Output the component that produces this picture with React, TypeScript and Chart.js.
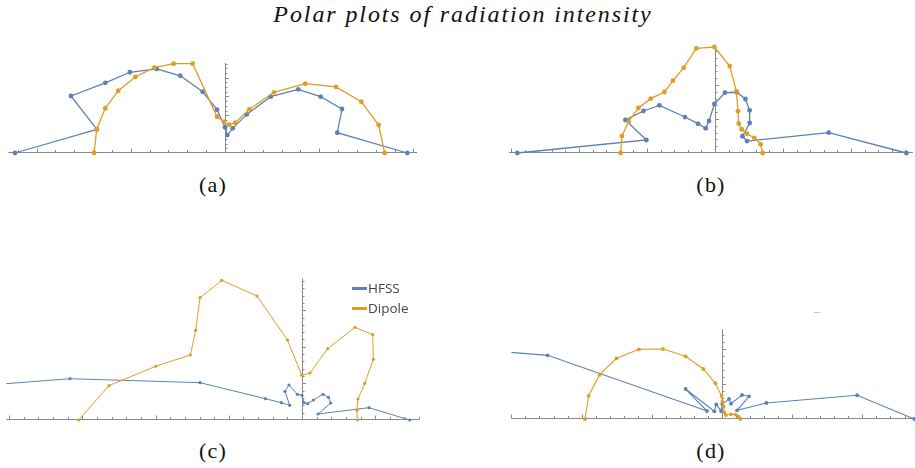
import React, { useEffect, useRef } from 'react';
import { Chart, registerables } from 'chart.js';

Chart.register(...registerables);

type Pt = [number, number];

const chartTitle = 'Polar plots of radiation intensity';
const seriesNames = ['HFSS', 'Dipole'];
const seriesColors = ['#5E81B5', '#E19C24'];
const panelCaptions = ['(a)', '(b)', '(c)', '(d)'];

// Pattern (a): cartesian projection of the polar samples (x, y)
const hfssA: Pt[] = [
  [-2.23, 0], [-1.36, 0.25], [-1.635, 0.605], [-1.27, 0.745], [-1.01, 0.857],
  [-0.725, 0.892], [-0.475, 0.82], [-0.237, 0.65], [-0.085, 0.46], [0.0, 0.273],
  [0.024, 0.19], [0.082, 0.262], [0.23, 0.41], [0.485, 0.598], [0.778, 0.676],
  [1.015, 0.598], [1.242, 0.467], [1.192, 0.215], [1.935, 0],
];
const dipoleA: Pt[] = [
  [-1.39, 0], [-1.362, 0.252], [-1.271, 0.475], [-1.133, 0.661], [-0.952, 0.807],
  [-0.751, 0.906], [-0.545, 0.948], [-0.343, 0.948], [-0.085, 0.385], [-0.011, 0.332],
  [0.046, 0.3], [0.109, 0.322], [0.258, 0.464], [0.52, 0.644], [0.852, 0.736],
  [1.178, 0.701], [1.447, 0.545], [1.631, 0.297], [1.695, 0],
];

// Pattern (b)
const hfssB: Pt[] = [
  [-2.907, 0], [-1.009, 0.191], [-1.318, 0.485], [-1.053, 0.618], [-0.818, 0.701],
  [-0.441, 0.529], [-0.25, 0.431], [-0.137, 0.363], [-0.088, 0.471], [-0.009, 0.721],
  [0.147, 0.887], [0.319, 0.893], [0.447, 0.794], [0.51, 0.628], [0.51, 0.441],
  [0.403, 0.246], [0.471, 0.176], [1.672, 0.299], [2.815, 0],
];
const dipoleB: Pt[] = [
  [-1.387, 0], [-1.368, 0.25], [-1.269, 0.466], [-1.126, 0.662], [-0.946, 0.799],
  [-0.744, 0.897], [-0.618, 1.063], [-0.46, 1.254], [-0.274, 1.54], [-0.009, 1.559],
  [0.216, 1.279], [0.315, 0.907], [0.338, 0.613], [0.349, 0.431], [0.393, 0.349],
  [0.471, 0.284], [0.579, 0.221], [0.672, 0.128], [0.701, 0],
];

// Pattern (c)
const hfssC: Pt[] = [
  [-4.676, 0.447], [-3.169, 0.564], [-1.393, 0.51], [-0.5, 0.291], [-0.281, 0.236],
  [-0.168, 0.201], [-0.232, 0.392], [-0.178, 0.478], [-0.063, 0.351], [0.0, 0.337],
  [0.027, 0.236], [0.078, 0.223], [0.156, 0.273], [0.287, 0.351], [0.361, 0.31],
  [0.392, 0.232], [0.219, 0.082], [0.915, 0.168], [1.471, 0],
];
const dipoleC: Pt[] = [
  [-3.051, 0], [-2.637, 0.469], [-1.999, 0.734], [-1.525, 0.888], [-1.452, 1.225],
  [-1.393, 1.671], [-1.097, 1.908], [-0.615, 1.694], [-0.199, 1.093], [-0.004, 0.611],
  [0.109, 0.642], [0.351, 0.974], [0.724, 1.266], [0.966, 1.165], [0.975, 0.829],
  [0.857, 0.501], [0.765, 0.287], [0.751, 0.133], [0.757, 0],
];

// Pattern (d)
const hfssD: Pt[] = [
  [-4.2, 1.047], [-2.484, 0.907], [-0.214, 0.114], [-0.518, 0.427], [-0.11, 0.11],
  [-0.081, 0.209], [-0.014, 0.114], [0.004, 0.214], [0.1, 0.285], [0.128, 0.218],
  [0.285, 0.342], [0.385, 0.323], [0.214, 0.124], [0.632, 0.228], [1.924, 0.338],
  [2.739, 0],
];
const dipoleD: Pt[] = [
  [-1.952, 0], [-1.9, 0.328], [-1.744, 0.631], [-1.502, 0.865], [-1.183, 0.993],
  [-0.84, 0.997], [-0.519, 0.893], [-0.266, 0.712], [-0.095, 0.509], [-0.006, 0.328],
  [0.004, 0.246], [0.023, 0.175], [0.033, 0.095], [0.057, 0.057], [0.128, 0.067],
  [0.194, 0.061], [0.236, 0.033], [0.261, 0],
];

interface PanelCfg {
  hfss: Pt[];
  dipole: Pt[];
  caption: string;
  // page position of the origin and pixels per data unit
  ox: number;
  oy: number;
  s: number;
  xMin: number;
  xMax: number;
  yMax: number;
  xStep: number;
  yStep: number;
  yMajorEvery: number;
  pointRadius: number;
  lineWidth: number;
  captionX: number;
  captionY: number;
}

const panels: PanelCfg[] = [
  {
    hfss: hfssA, dipole: dipoleA, caption: panelCaptions[0],
    ox: 225, oy: 153, s: 94.2, xMin: -2.3, xMax: 2.04, yMax: 0.955,
    xStep: 0.2, yStep: 0.05, yMajorEvery: 4, pointRadius: 2.4, lineWidth: 1.3,
    captionX: 213, captionY: 185,
  },
  {
    hfss: hfssB, dipole: dipoleB, caption: panelCaptions[1],
    ox: 715, oy: 153, s: 68, xMin: -3.03, xMax: 2.91, yMax: 1.565,
    xStep: 0.2, yStep: 0.1, yMajorEvery: 5, pointRadius: 2.4, lineWidth: 1.3,
    captionX: 711, captionY: 185,
  },
  {
    hfss: hfssC, dipole: dipoleC, caption: panelCaptions[2],
    ox: 302, oy: 420, s: 73.2, xMin: -4.04, xMax: 1.6, yMax: 1.936,
    xStep: 0.2, yStep: 0.1, yMajorEvery: 5, pointRadius: 1.6, lineWidth: 1,
    captionX: 213, captionY: 451,
  },
  {
    hfss: hfssD, dipole: dipoleD, caption: panelCaptions[3],
    ox: 722, oy: 419, s: 70.2, xMin: -3.0, xMax: 2.76, yMax: 1.278,
    xStep: 0.2, yStep: 0.1, yMajorEvery: 5, pointRadius: 1.9, lineWidth: 1.1,
    captionX: 711, captionY: 451,
  },
];

const AXIS_COLOR = '#8a8a8a';

// Draws Mathematica-style axes that cross at the origin, with inward ticks.
function makeAxesPlugin(cfg: PanelCfg) {
  return {
    id: 'originAxes',
    beforeDatasetsDraw(chart: Chart) {
      const { ctx, chartArea } = chart;
      const xs = chart.scales.x;
      const ys = chart.scales.y;
      const x0 = Math.round(xs.getPixelForValue(0)) + 0.5;
      const y0 = Math.round(ys.getPixelForValue(0)) - 0.5;
      ctx.save();
      ctx.strokeStyle = AXIS_COLOR;
      ctx.lineWidth = 1;
      ctx.beginPath();
      ctx.moveTo(chartArea.left, y0);
      ctx.lineTo(chartArea.right, y0);
      ctx.moveTo(x0, y0);
      ctx.lineTo(x0, chartArea.top);
      ctx.stroke();

      ctx.beginPath();
      const k0 = Math.ceil(cfg.xMin / cfg.xStep - 1e-6);
      const k1 = Math.floor(cfg.xMax / cfg.xStep + 1e-6);
      for (let k = k0; k <= k1; k++) {
        if (k === 0) continue;
        const px = Math.round(xs.getPixelForValue(k * cfg.xStep)) + 0.5;
        const len = k % 5 === 0 ? 4 : 2.5;
        ctx.moveTo(px, y0);
        ctx.lineTo(px, y0 - len);
      }
      const j1 = Math.floor(cfg.yMax / cfg.yStep + 1e-6);
      for (let j = 1; j <= j1; j++) {
        const py = Math.round(ys.getPixelForValue(j * cfg.yStep)) + 0.5;
        const len = j % cfg.yMajorEvery === 0 ? 3.5 : 2;
        ctx.moveTo(x0, py);
        ctx.lineTo(x0 + len, py);
      }
      ctx.stroke();
      ctx.restore();
    },
  };
}

function PolarPanel({ cfg }: { cfg: PanelCfg }) {
  const ref = useRef<HTMLCanvasElement | null>(null);
  const pad = 6;
  const areaL = cfg.ox + cfg.xMin * cfg.s;
  const areaR = cfg.ox + cfg.xMax * cfg.s;
  const areaT = cfg.oy - cfg.yMax * cfg.s;
  const areaB = cfg.oy;
  const left = Math.floor(areaL - pad);
  const top = Math.floor(areaT - pad);
  const right = Math.ceil(areaR + pad);
  const bottom = Math.ceil(areaB + pad);
  const w = right - left;
  const h = bottom - top;

  useEffect(() => {
    if (!ref.current) return;
    const clip = { left: 0, right: 6, top: 6, bottom: 6 };
    const mk = (pts: Pt[], i: number, order: number) => ({
      label: seriesNames[i],
      data: pts.map(([x, y]) => ({ x, y })),
      borderColor: seriesColors[i],
      backgroundColor: seriesColors[i],
      pointBorderWidth: 0,
      showLine: true,
      borderWidth: cfg.lineWidth,
      pointRadius: cfg.pointRadius,
      pointHoverRadius: cfg.pointRadius,
      order,
      clip,
    });
    const chart = new Chart(ref.current, {
      type: 'scatter',
      data: { datasets: [mk(cfg.hfss, 0, 1), mk(cfg.dipole, 1, 0)] as any },
      options: {
        responsive: false,
        animation: false,
        events: [],
        layout: {
          padding: {
            left: areaL - left,
            right: right - areaR,
            top: areaT - top,
            bottom: bottom - areaB,
          },
        },
        plugins: { legend: { display: false }, tooltip: { enabled: false } },
        scales: {
          x: { type: 'linear', min: cfg.xMin, max: cfg.xMax, display: false },
          y: { type: 'linear', min: 0, max: cfg.yMax, display: false },
        },
      },
      plugins: [makeAxesPlugin(cfg)],
    });
    return () => chart.destroy();
  }, []);

  return (
    <>
      <canvas
        ref={ref}
        width={w}
        height={h}
        style={{ position: 'absolute', left, top, width: w, height: h }}
      />
      <div
        style={{
          position: 'absolute',
          left: cfg.captionX - 40,
          width: 80,
          top: cfg.captionY - 12,
          height: 24,
          lineHeight: '24px',
          textAlign: 'center',
          fontFamily: '"Liberation Serif", serif',
          fontSize: 22,
          letterSpacing: 1.2,
          color: '#111',
        }}
      >
        {cfg.caption}
      </div>
    </>
  );
}

export default function App() {
  return (
    <div
      style={{
        position: 'fixed',
        left: 0,
        top: 0,
        width: 915,
        height: 468,
        overflow: 'hidden',
        background: '#ffffff',
      }}
    >
      <div
        style={{
          position: 'absolute',
          left: 0,
          width: 926,
          top: 1,
          height: 26,
          lineHeight: '26px',
          textAlign: 'center',
          fontFamily: '"Liberation Serif", serif',
          fontStyle: 'italic',
          fontSize: 24,
          letterSpacing: 1.9,
          color: '#111',
        }}
      >
        {chartTitle}
      </div>
      {panels.map((p, i) => (
        <PolarPanel key={i} cfg={p} />
      ))}
      {/* legend of panel (c) */}
      {seriesNames.map((name, i) => (
        <div
          key={name}
          style={{
            position: 'absolute',
            left: 352,
            top: 278 + i * 20,
            height: 20,
            display: 'flex',
            alignItems: 'center',
            fontFamily: '"Open Sans", sans-serif',
            fontSize: 13.5,
            color: '#444',
            whiteSpace: 'nowrap',
          }}
        >
          <span
            style={{
              display: 'inline-block',
              width: 15,
              height: 3,
              background: seriesColors[i],
              marginRight: 1,
            }}
          />
          {name}
        </div>
      ))}
      <div
        style={{
          position: 'absolute',
          left: 814,
          top: 312,
          width: 6,
          height: 1,
          background: '#c4c4c4',
        }}
      />
    </div>
  );
}
